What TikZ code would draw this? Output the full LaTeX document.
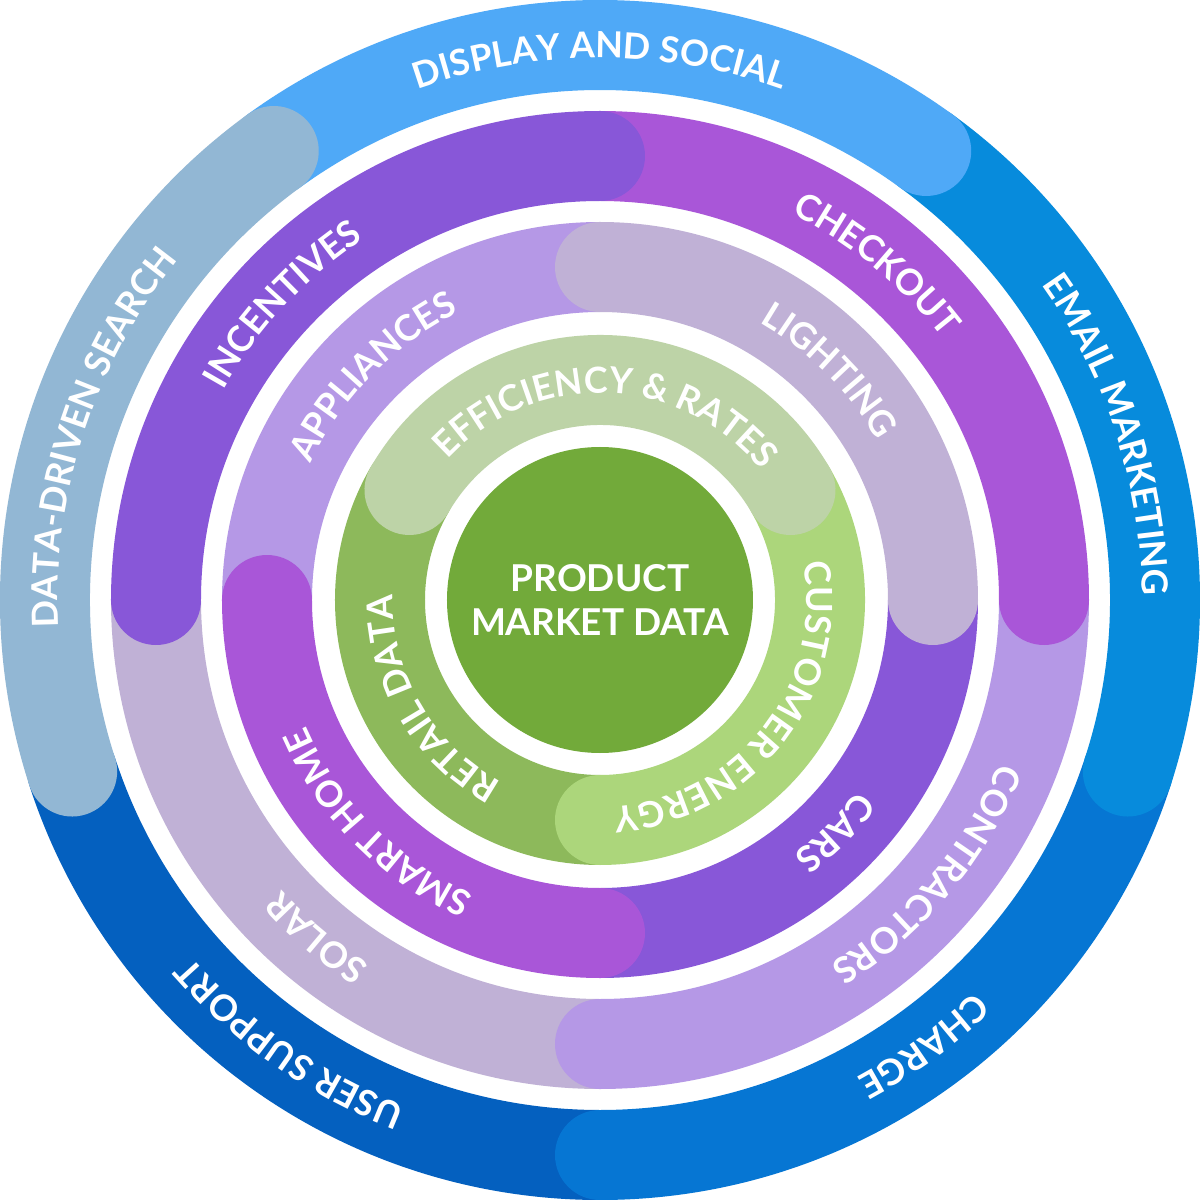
\documentclass[tikz,border=0pt]{standalone}
\usepackage{fontspec}
\setmainfont{Lato}
\usetikzlibrary{decorations.text}
\definecolor{cDisp}{HTML}{4FA9F7}
\definecolor{cEmail}{HTML}{078BDC}
\definecolor{cCharge}{HTML}{0676D3}
\definecolor{cUser}{HTML}{0460BF}
\definecolor{cData}{HTML}{92B7D4}
\definecolor{cViolet}{HTML}{8857D8}
\definecolor{cMagenta}{HTML}{A956D8}
\definecolor{cLight}{HTML}{B598E6}
\definecolor{cGray}{HTML}{C0B1D6}
\definecolor{cEff}{HTML}{BDD3A7}
\definecolor{cCust}{HTML}{ACD67B}
\definecolor{cRetail}{HTML}{8DB95B}
\definecolor{cCenter}{HTML}{72AA3A}
\newcommand\ringfont{\fontsize{36}{40}\selectfont\bfseries\color{white}}
\newcommand\myseg[4]{\draw[segline,#1] (#2:#4pt) arc[start angle=#2,end angle=#3,radius=#4pt];}
\newcommand\mytext[3]{\path[decorate,decoration={text along path,text align=center,text={|\ringfont|#3}}] ({#1+85}:#2pt) arc[start angle={#1+85},end angle={#1-85},radius=#2pt];}
\begin{document}
\begin{tikzpicture}[segline/.style={line width=90pt,line cap=round}]
\fill[white] (-600pt,-600pt) rectangle (600pt,600pt);
\useasboundingbox (-600pt,-600pt) rectangle (600pt,600pt);
% ring 1
\myseg{cUser}{-90}{-162}{555}
\myseg{cCharge}{-18}{-90}{555}
\myseg{cEmail}{54}{-18}{555}
\myseg{cDisp}{126}{54}{555}
\myseg{cData}{198}{126}{555}
% ring 2
\myseg{cGray}{-90}{-180}{444}
\myseg{cLight}{0}{-90}{444}
\myseg{cMagenta}{90}{0}{444}
\myseg{cViolet}{180}{90}{444}
% ring 3
\myseg{cLight}{180}{90}{333}
\myseg{cViolet}{0}{-90}{333}
\myseg{cMagenta}{-90}{-180}{333}
\myseg{cGray}{90}{0}{333}
% ring 4
\myseg{cRetail}{-90}{-210}{220}
\myseg{cCust}{30}{-90}{220}
\myseg{cEff}{150}{30}{220}
% center
\fill[cCenter] (0,0) circle (153pt);
\node[align=center,text=white,font=\fontsize{37}{44}\selectfont\bfseries] (center) at (0,0) {PRODUCT\\MARKET DATA};
% texts ring 1
\mytext{90}{542}{DISPLAY AND SOCIAL}
\mytext{18}{542}{EMAIL MARKETING}
\mytext{-54}{542}{CHARGE}
\mytext{-125}{542}{USER SUPPORT}
\mytext{162}{542}{DATA-DRIVEN SEARCH}
% ring 2
\mytext{137}{431}{INCENTIVES}
\mytext{50.5}{431}{CHECKOUT}
\mytext{-40}{431}{CONTRACTORS}
\mytext{-130}{431}{SOLAR}
% ring 3
\mytext{135.5}{320}{APPLIANCES}
\mytext{45}{320}{LIGHTING}
\mytext{-44.7}{320}{CARS}
\mytext{-135}{320}{SMART HOME}
% ring 4
\mytext{88}{207}{EFFICIENCY {\&} RATES}
\mytext{-38}{207}{CUSTOMER ENERGY}
\mytext{-150}{207}{RETAIL DATA}
\end{tikzpicture}
\end{document}
